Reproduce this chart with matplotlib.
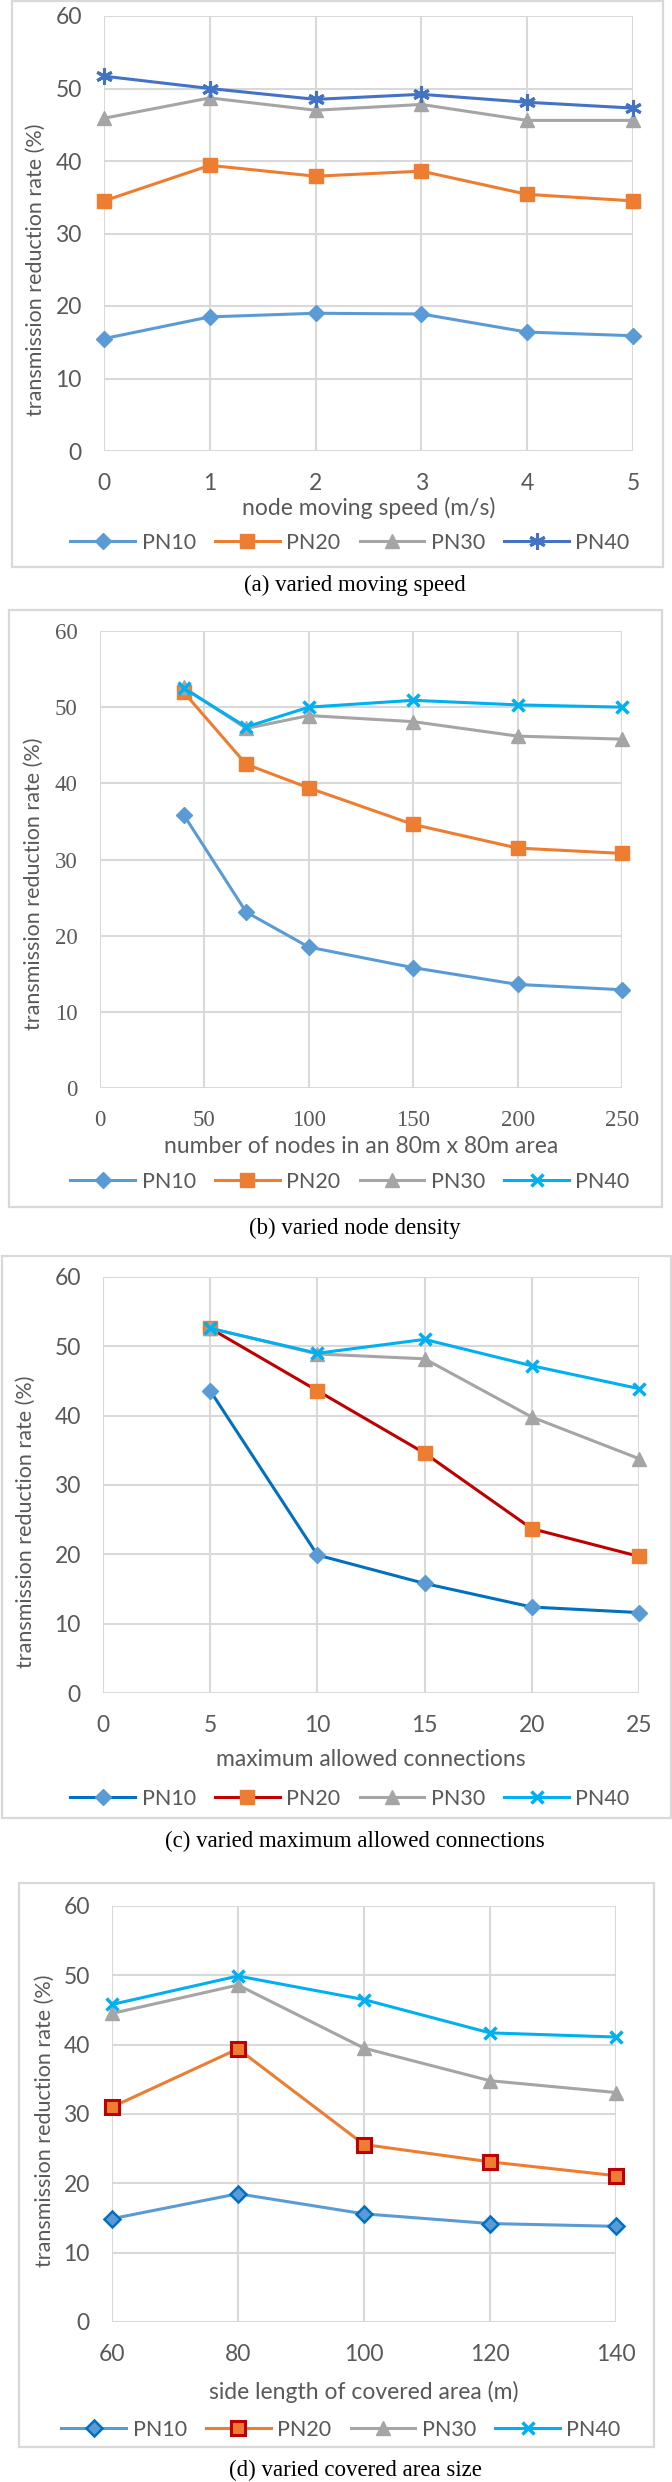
import matplotlib.pyplot as plt
from matplotlib.patches import Rectangle

W, H = 672, 2482

# (a) varied moving speed
speed = [0, 1, 2, 3, 4, 5]
speed_pn10 = [15.5, 18.5, 19.0, 18.9, 16.4, 15.9]
speed_pn20 = [34.5, 39.4, 37.9, 38.6, 35.4, 34.5]
speed_pn30 = [45.9, 48.7, 47.0, 47.8, 45.6, 45.6]
speed_pn40 = [51.7, 50.0, 48.5, 49.2, 48.1, 47.3]

# (b) varied node density
nodes = [40, 70, 100, 150, 200, 250]
nodes_pn10 = [35.9, 23.1, 18.5, 15.8, 13.6, 12.9]
nodes_pn20 = [52.0, 42.5, 39.4, 34.6, 31.5, 30.8]
nodes_pn30 = [52.6, 47.2, 48.9, 48.1, 46.2, 45.8]
nodes_pn40 = [52.5, 47.4, 50.0, 50.9, 50.3, 50.0]

# (c) varied maximum allowed connections
conns = [5, 10, 15, 20, 25]
conns_pn10 = [43.6, 19.9, 15.8, 12.4, 11.6]
conns_pn20 = [52.6, 43.6, 34.6, 23.7, 19.7]
conns_pn30 = [52.6, 48.9, 48.2, 39.8, 33.8]
conns_pn40 = [52.6, 49.0, 51.0, 47.2, 43.9]

# (d) varied covered area size
side = [60, 80, 100, 120, 140]
side_pn10 = [14.9, 18.5, 15.6, 14.2, 13.8]
side_pn20 = [31.0, 39.4, 25.6, 23.1, 21.1]
side_pn30 = [44.5, 48.6, 39.5, 34.8, 33.1]
side_pn40 = [45.8, 49.9, 46.5, 41.7, 41.1]

labels = ["PN10", "PN20", "PN30", "PN40"]
ylab = "transmission reduction rate (%)"

SANS = "Lato"
SERIF = "Liberation Serif"
GRID = "#D9D9D9"
TXT = "#595959"

fig = plt.figure(figsize=(W / 100, H / 100), dpi=100)


def fx(x):
    return x / W


def fy(y):
    return 1 - y / H


def panel(plot, frame, xs, series, styles, xlim, xticks, xlabel, caption,
          ylab_pos, xlab_y, leg_y, cap_y, tickfont=SANS, leg_x=350):
    l, r, t, b = plot
    # chart-area border
    fig.patches.append(Rectangle((fx(frame[0]), fy(frame[3])),
                                 fx(frame[1] - frame[0]), (frame[3] - frame[2]) / H,
                                 transform=fig.transFigure, fill=False,
                                 edgecolor=GRID, lw=1.6))
    ax = fig.add_axes([fx(l), fy(b), fx(r - l), (b - t) / H])
    ax.set_xlim(xlim)
    ax.set_ylim(0, 60)
    ax.set_xticks(xticks)
    ax.set_yticks(range(0, 61, 10))
    ax.grid(True, color=GRID, lw=1.5)
    ax.set_axisbelow(True)
    for s in ax.spines.values():
        s.set_visible(False)
    ax.tick_params(length=0, labelcolor=TXT, labelsize=16.5)
    ax.tick_params(axis="x", pad=16)
    ax.tick_params(axis="y", pad=16)
    for lab in ax.get_xticklabels() + ax.get_yticklabels():
        lab.set_fontfamily(tickfont)
    handles = []
    for ys, st_, name in zip(series, styles, labels):
        h, = ax.plot(xs, ys, label=name, clip_on=False, zorder=3, **st_)
        handles.append(h)
    fig.text(fx(ylab_pos[0]), fy(ylab_pos[1]), ylab, rotation=90, ha="center",
             va="center", fontsize=15.5, color=TXT, family=SANS)
    fig.text(fx((l + r) / 2), fy(xlab_y), xlabel, ha="center", va="center",
             fontsize=16.5, color=TXT, family=SANS)
    leg = fig.legend(handles=handles, loc="center", ncol=4,
                     bbox_to_anchor=(fx(leg_x), fy(leg_y)), frameon=False,
                     handlelength=3.0, handletextpad=0.3, columnspacing=0.9,
                     prop={"family": SANS, "size": 15.5})
    for t_ in leg.get_texts():
        t_.set_color(TXT)
    fig.text(fx(355), fy(cap_y), caption, ha="center", va="center",
             fontsize=16.5, color="black", family=SERIF)
    return ax


LW = 2.2


def st(color, marker, ms, mfc=None, mec=None, mew=1.0):
    return dict(color=color, lw=LW, marker=marker, ms=ms,
                mfc=mfc or color, mec=mec or mfc or color, mew=mew)


star = (6, 2, 0)

# (a)
panel((104, 633, 16, 451), (12, 663, 1, 567), speed,
      [speed_pn10, speed_pn20, speed_pn30, speed_pn40],
      [st("#5B9BD5", "D", 8), st("#ED7D31", "s", 10.5),
       st("#A5A5A5", "^", 10), st("#4472C4", star, 12, mew=2.2)],
      (0, 5), speed, "node moving speed (m/s)", "(a) varied moving speed",
      (36, 270), 508, 543, 585)

# (b)
panel((100, 622, 631, 1088), (9, 662, 610, 1207), nodes,
      [nodes_pn10, nodes_pn20, nodes_pn30, nodes_pn40],
      [st("#5B9BD5", "D", 8), st("#ED7D31", "s", 10.5),
       st("#A5A5A5", "^", 10), st("#00B0F0", "x", 9, mew=2.5)],
      (0, 250), range(0, 251, 50), "number of nodes in an 80m x 80m area",
      "(b) varied node density", (34, 884), 1146, 1182, 1228,
      tickfont=SERIF)

# (c)
panel((103, 639, 1277, 1693), (2, 671, 1256, 1818), conns,
      [conns_pn10, conns_pn20, conns_pn30, conns_pn40],
      [st("#0070C0", "D", 8, mfc="#5B9BD5"), st("#C00000", "s", 10.5, mfc="#ED7D31"),
       st("#A5A5A5", "^", 10), st("#00B0F0", "x", 9, mew=2.5)],
      (0, 25), range(0, 26, 5), "maximum allowed connections",
      "(c) varied maximum allowed connections", (26, 1522), 1760, 1799, 1841)

# (d)
panel((112, 616, 1906, 2322), (19, 654, 1883, 2447), side,
      [side_pn10, side_pn20, side_pn30, side_pn40],
      [st("#5B9BD5", "D", 8, mfc="#5B9BD5", mec="#0070C0", mew=1.8),
       st("#ED7D31", "s", 10.5, mfc="#ED7D31", mec="#C00000", mew=2.2),
       st("#A5A5A5", "^", 10), st("#00B0F0", "x", 9, mew=2.5)],
      (60, 140), side, "side length of covered area (m)",
      "(d) varied covered area size", (45, 2121), 2392, 2430, 2470, leg_x=341)

fig.savefig("out.png", dpi=100)
